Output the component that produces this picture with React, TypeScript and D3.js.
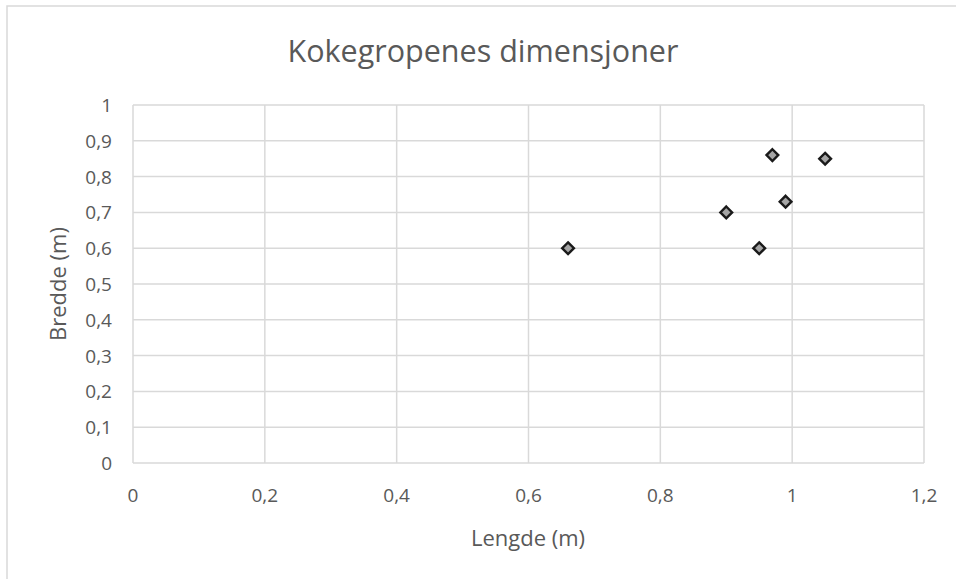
import React from "react";
import * as d3 from "d3";

const lengde = [0.66, 0.9, 0.95, 0.97, 0.99, 1.05];
const bredde = [0.6, 0.7, 0.6, 0.86, 0.73, 0.85];
const xTicks = [0, 0.2, 0.4, 0.6, 0.8, 1, 1.2];
const yTicks = [0, 0.1, 0.2, 0.3, 0.4, 0.5, 0.6, 0.7, 0.8, 0.9, 1];

const title = "Kokegropenes dimensjoner";
const xTitle = "Lengde (m)";
const yTitle = "Bredde (m)";

const W = 956;
const H = 579;
const plot = { left: 133, right: 924, top: 105, bottom: 463 };
const font = "'Open Sans', sans-serif";
const grid = "#d9d9d9";
const textColor = "#595959";

const fmt = (v: number) => String(v).replace(".", ",");

export default function App() {
    const x = d3.scaleLinear().domain([0, 1.2]).range([plot.left, plot.right]);
    const y = d3.scaleLinear().domain([0, 1]).range([plot.bottom, plot.top]);
    const diamond = d3.symbol().type(d3.symbolDiamond2).size(88)();

    return (
        <svg width={W} height={H} style={{ position: "absolute", left: 0, top: 0, background: "#fff" }}>
            <rect x={7} y={6} width={W + 10} height={H + 10} fill="#fff" stroke={grid} strokeWidth={1.5} />
            <text x={483} y={62} textAnchor="middle" fontFamily={font} fontSize={30.5} fill={textColor}>{title}</text>

            {xTicks.map(t => (
                <line key={"gx" + t} x1={x(t)} x2={x(t)} y1={plot.top} y2={plot.bottom} stroke={grid} strokeWidth={1.5} />
            ))}
            {yTicks.map(t => (
                <line key={"gy" + t} x1={plot.left} x2={plot.right} y1={y(t)} y2={y(t)} stroke={grid} strokeWidth={1.5} />
            ))}

            {xTicks.map(t => (
                <text key={"tx" + t} x={x(t)} y={502} textAnchor="middle" fontFamily={font} fontSize={19} fill={textColor}>{fmt(t)}</text>
            ))}
            {yTicks.map(t => (
                <text key={"ty" + t} x={112} y={y(t) + 7} textAnchor="end" fontFamily={font} fontSize={19} fill={textColor}>{fmt(t)}</text>
            ))}

            <text x={528} y={546} textAnchor="middle" fontFamily={font} fontSize={22} fill={textColor}>{xTitle}</text>
            <text transform={`translate(66,284) rotate(-90)`} textAnchor="middle" fontFamily={font} fontSize={22} fill={textColor}>{yTitle}</text>

            {lengde.map((l, i) => (
                <path key={"p" + i} d={diamond || ""} transform={`translate(${x(l)},${y(bredde[i])})`} fill="#a5a5a5" stroke="#1a1a1a" strokeWidth={2.4} />
            ))}
        </svg>
    );
}
